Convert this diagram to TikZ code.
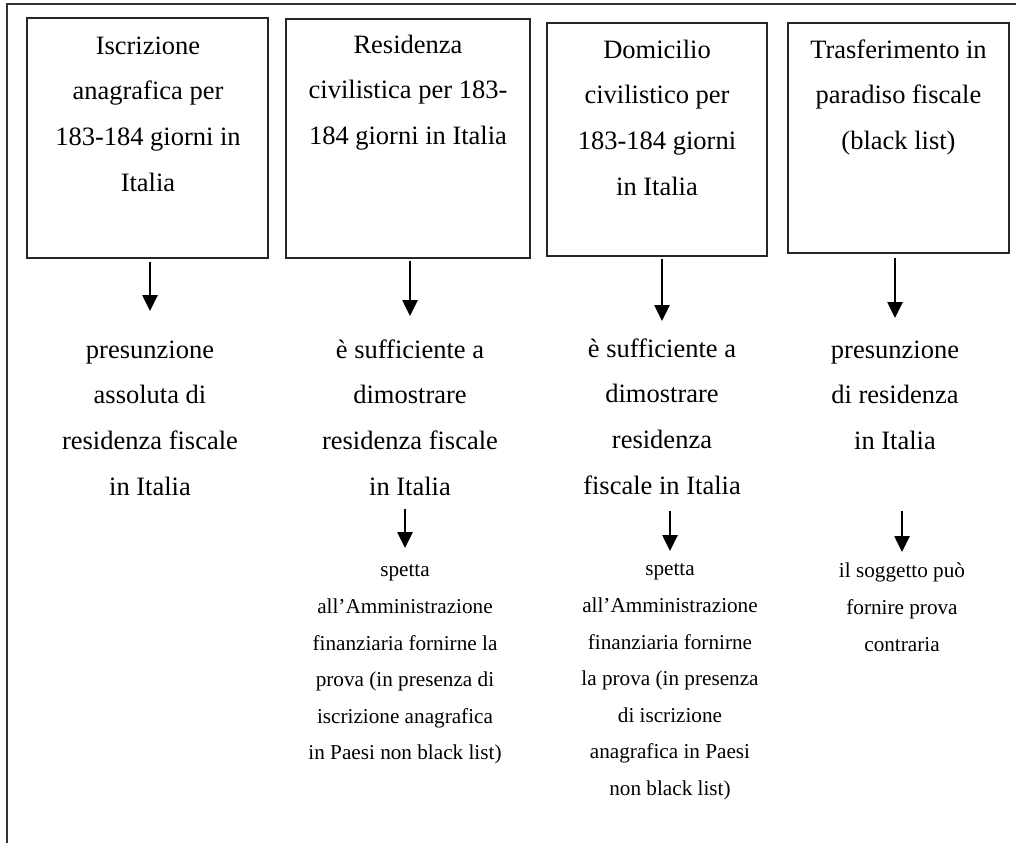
\documentclass[tikz,border=0pt]{standalone}
\usepackage{fontspec}
\setmainfont{Liberation Serif}
\usetikzlibrary{arrows.meta}
\tikzset{
  box/.style={draw=black!85, line width=1.2pt, inner sep=0pt},
  bigtxt/.style={anchor=north, align=center, inner sep=0pt, font=\fontsize{26.5}{45.7}\selectfont},
  smalltxt/.style={anchor=north, align=center, inner sep=0pt, font=\fontsize{21.2}{36.6}\selectfont},
  arr/.style={line width=2.6pt, -{Triangle[width=15pt,length=16pt]}},
  frame/.style={line width=2pt, draw=black!80}
}
\begin{document}
\begin{tikzpicture}[x=1pt,y=-1pt]
\useasboundingbox (0,0) rectangle (1018,843);
% outer frame (top and left only)
\draw[frame] (1016,4) -- (7,4) -- (7,843);
% boxes
\node[box, minimum width=241pt, minimum height=240pt] (b1) at (147.5,138) {};
\node[box, minimum width=244pt, minimum height=239pt] (b2) at (408,138.5) {};
\node[box, minimum width=220pt, minimum height=233pt] (b3) at (657,139.5) {};
\node[box, minimum width=221pt, minimum height=230pt] (b4) at (898.5,138) {};
% box texts
\node[bigtxt] (t1) at (148,22) {\strut Iscrizione\\anagrafica per\\183-184 giorni in\\Italia};
\node[bigtxt] (t2) at (408,21) {\strut Residenza\\civilistica per 183-\\184 giorni in Italia};
\node[bigtxt] (t3) at (657,26) {\strut Domicilio\\civilistico per\\183-184 giorni\\in Italia};
\node[bigtxt] (t4) at (898.5,26) {\strut Trasferimento in\\paradiso fiscale\\(black list)};
% middle texts
\node[bigtxt] (m1) at (150,326) {\strut presunzione\\assoluta di\\residenza fiscale\\in Italia};
\node[bigtxt] (m2) at (410,326) {\strut è sufficiente a\\dimostrare\\residenza fiscale\\in Italia};
\node[bigtxt] (m3) at (662,325) {\strut è sufficiente a\\dimostrare\\residenza\\fiscale in Italia};
\node[bigtxt] (m4) at (895,326) {\strut presunzione\\di residenza\\in Italia};
% small texts
\node[smalltxt] (s2) at (405,551) {\strut spetta\\all’Amministrazione\\finanziaria fornirne la\\prova (in presenza di\\iscrizione anagrafica\\in Paesi non black list)};
\node[smalltxt] (s3) at (670,550) {\strut spetta\\all’Amministrazione\\finanziaria fornirne\\la prova (in presenza\\di iscrizione\\anagrafica in Paesi\\non black list)};
\node[smalltxt] (s4) at (902,552) {\strut il soggetto può\\fornire prova\\contraria};
% first-level arrows
\draw[arr] (b1.south -| m1.north) ++(0,3) -- ([yshift=15pt]m1.north);
\draw[arr] (b2.south -| m2.north) ++(0,2) -- ([yshift=10pt]m2.north);
\draw[arr] (b3.south -| m3.north) ++(0,2) -- ([yshift=4pt]m3.north);
\draw[arr] (b4.south -| m4.north) ++(0,4) -- ([yshift=8pt]m4.north);
% second-level arrows
\draw[arr] (m2.south -| s2.north) ++(0,13) -- ([yshift=3pt]s2.north);
\draw[arr] (m3.south -| s3.north) ++(0,16) -- ([yshift=-1pt]s3.north);
\draw[arr] (m4.south -| s4.north) ++(0,61) -- ([yshift=0pt]s4.north);
\end{tikzpicture}
\end{document}
